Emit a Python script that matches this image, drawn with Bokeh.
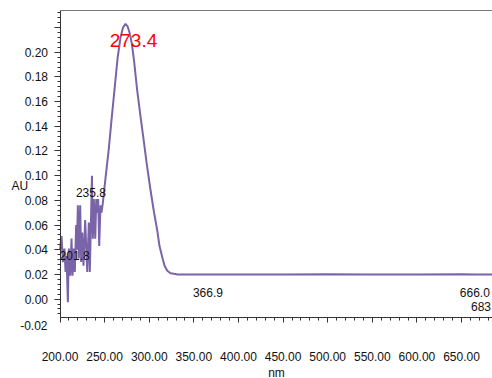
from bokeh.plotting import figure
from bokeh.models import (Range1d, FixedTicker, LinearAxis)
from bokeh.embed import file_html
from bokeh.resources import INLINE
from bokeh.core.properties import value

# Spectrum (nm, AU)
wavelength = [200.0, 201.7, 203.2, 205.0, 206.2, 207.3, 208.8, 209.9, 211.4, 212.9,
              214.0, 215.5, 216.6, 218.1, 218.9, 220.0, 221.1, 222.6, 223.7, 224.9,
              226.3, 228.2, 230.5, 232.3, 233.4, 235.8, 236.8, 237.9, 239.5, 240.6,
              241.7, 242.8, 243.9, 245.4, 246.5, 248.0, 251.0, 254.7, 257.7, 261.1,
              264.5, 267.8, 270.6, 273.4, 275.7, 277.9, 280.5, 283.0, 286.5, 290.2,
              293.9, 297.5, 301.5, 305.2, 309.0, 311.5, 314.6, 317.2, 320.2, 323.9,
              327.6, 331.7, 366.9, 400.0, 450.0, 500.0, 550.0, 600.0, 650.0, 666.0,
              683.0, 690.0]
absorbance = [0.040, 0.051, 0.030, 0.041, 0.022, 0.035, -0.0025, 0.041, 0.019, 0.049,
              0.019, 0.041, 0.022, 0.060, 0.040, 0.076, 0.033, 0.076, 0.030, 0.054,
              0.027, 0.064, 0.022, 0.062, 0.022, 0.100, 0.049, 0.081, 0.049, 0.081,
              0.070, 0.081, 0.043, 0.076, 0.070, 0.078, 0.098, 0.122, 0.145, 0.170,
              0.195, 0.212, 0.220, 0.223, 0.221, 0.216, 0.207, 0.193, 0.169, 0.148,
              0.128, 0.108, 0.088, 0.071, 0.0555, 0.043, 0.034, 0.027, 0.023, 0.021,
              0.0205, 0.0200, 0.0200, 0.0200, 0.0200, 0.0201, 0.0200, 0.0200, 0.0201, 0.0200,
              0.0200, 0.0200]

# Peak annotations
main_peak_nm = 273.4
main_peak_label = "273.4"
small_peak_nm = [235.8, 366.9, 666.0]
small_peak_labels = ["235.8", "366.9", "666.0"]
small_peak_label_au = [0.0866, 0.0056, 0.0056]
left_peak_nm = 201.8
left_peak_label_au = 0.0356
end_nm = 683
end_label_au = -0.0063

x_major = [200, 250, 300, 350, 400, 450, 500, 550, 600, 650]
x_minor = list(range(200, 690, 10))
y_major = [0.00, 0.02, 0.04, 0.06, 0.08, 0.10, 0.12, 0.14, 0.16, 0.18, 0.20, 0.22]
y_minor = [round(-0.012 + 0.004 * i, 3) for i in range(62)]
y_below_tick = -0.02
y_title = "AU"
y_title_at = 0.0917

# axis extents and the visible window around them
X_AXIS_MIN, X_AXIS_MAX = 200.0, 684.7
Y_AXIS_MIN, Y_AXIS_MAX = -0.0149, 0.2338
X_VIEW_MIN = 133.3
Y_VIEW_MIN, Y_VIEW_MAX = -0.0643, 0.2419

FONT = "Liberation Sans"
INK = "#111111"
AXIS = "#333333"

p = figure(width=492, height=378, output_backend="svg", toolbar_location=None,
           x_range=Range1d(X_VIEW_MIN, X_AXIS_MAX),
           y_range=Range1d(Y_VIEW_MIN, Y_VIEW_MAX),
           min_border_left=0, min_border_right=0, min_border_top=0,
           min_border_bottom=0)
p.outline_line_color = None
p.background_fill_color = "white"
p.border_fill_color = "white"
p.grid.visible = False

p.line(wavelength, absorbance, line_color="#7a64a8", line_width=2)

# x axis
xa = p.xaxis[0]
xa.fixed_location = Y_AXIS_MIN
xa.bounds = (X_AXIS_MIN, X_AXIS_MAX)
xa.ticker = FixedTicker(ticks=x_major, minor_ticks=x_minor)
xa.major_label_overrides = {t: f"{t:.2f}" for t in x_major}
xa.axis_label = "nm"
xa.axis_label_text_font = FONT
xa.axis_label_text_font_size = "12px"
xa.axis_label_text_font_style = "normal"
xa.axis_label_text_color = INK
xa.axis_label_standoff = 2
xa.major_label_text_font = FONT
xa.major_label_text_font_size = "12px"
xa.major_label_text_color = INK
xa.major_label_standoff = 29
xa.major_tick_in = 0
xa.major_tick_out = 5
xa.minor_tick_in = 0
xa.minor_tick_out = 3
xa.axis_line_color = AXIS
xa.major_tick_line_color = AXIS
xa.minor_tick_line_color = AXIS

# y axis
ya = p.yaxis[0]
ya.fixed_location = X_AXIS_MIN
ya.bounds = (Y_AXIS_MIN, Y_AXIS_MAX)
ya.ticker = FixedTicker(ticks=y_major, minor_ticks=y_minor)
overrides = {t: f"{t:.2f}" for t in y_major}
overrides[0.22] = ""
ya.major_label_overrides = overrides
ya.major_label_text_font = FONT
ya.major_label_text_font_size = "12px"
ya.major_label_text_color = INK
ya.major_label_standoff = 6
ya.major_tick_in = 0
ya.major_tick_out = 6
ya.minor_tick_in = 0
ya.minor_tick_out = 3
ya.axis_line_color = AXIS
ya.major_tick_line_color = AXIS
ya.minor_tick_line_color = AXIS

# top border line of the data area
top = LinearAxis(fixed_location=Y_AXIS_MAX, bounds=(X_AXIS_MIN, X_AXIS_MAX),
                 ticker=FixedTicker(ticks=[], minor_ticks=[]),
                 major_label_text_font_size="0px", major_tick_out=0, minor_tick_out=0,
                 major_tick_in=0, minor_tick_in=0, major_label_standoff=0,
                 axis_line_color="#777777")
p.add_layout(top, "above")

# y-axis extra label below the x axis and the y-axis title
p.text(x=[X_AXIS_MIN], y=[y_below_tick], text=[f"{y_below_tick:.2f}"], text_color=INK,
       text_font=value(FONT), text_font_size="12px", text_align="right",
       text_baseline="middle", x_offset=-12.5, y_offset=2)
p.text(x=[X_AXIS_MIN], y=[y_title_at], text=[y_title], text_color=INK,
       text_font=value(FONT), text_font_size="12px", text_align="left",
       text_baseline="middle", x_offset=-48.5)

# peak labels
p.text(x=[main_peak_nm], y=[0.2095], text=[main_peak_label], text_color="red",
       text_font=value(FONT), text_font_size="19px", text_align="center",
       text_baseline="middle", x_offset=8)
p.text(x=small_peak_nm, y=small_peak_label_au, text=small_peak_labels,
       text_color=INK, text_font=value(FONT), text_font_size="12px",
       text_align="center", text_baseline="middle", x_offset=-1)
p.text(x=[left_peak_nm], y=[left_peak_label_au], text=["201.8"],
       text_color=INK, text_font=value(FONT), text_font_size="12px",
       text_align="left", text_baseline="middle", x_offset=-2)
p.text(x=[end_nm], y=[end_label_au], text=[str(end_nm)],
       text_color=INK, text_font=value(FONT), text_font_size="12px",
       text_align="right", text_baseline="middle")

open("out.html", "w").write(file_html(p, INLINE))
